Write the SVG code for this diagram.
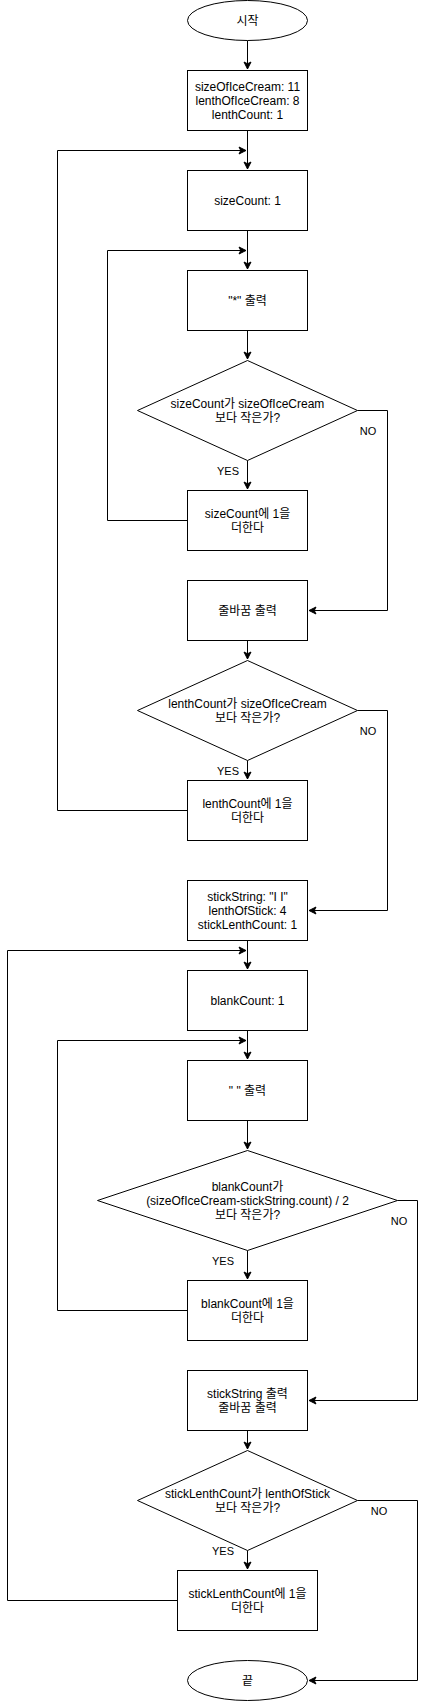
<svg xmlns="http://www.w3.org/2000/svg" width="426" height="1701" viewBox="0 0 426 1701">
<style>
.s{fill:#fff;stroke:#000;stroke-width:1}
.t{font-family:"Liberation Sans",Arial,"Noto Sans CJK KR",sans-serif;font-size:12px;fill:#000;text-anchor:middle}
.l{font-family:"Liberation Sans",Arial,"Noto Sans CJK KR",sans-serif;font-size:11px;fill:#000;text-anchor:middle}
.e{fill:none;stroke:#000;stroke-width:1;marker-end:url(#a)}
</style>
<defs>
<marker id="a" markerUnits="userSpaceOnUse" markerWidth="8" markerHeight="8" refX="7" refY="3.5" orient="auto" overflow="visible">
<path d="M0,0 L7,3.5 L0,7 L1.75,3.5 Z" fill="#000" stroke="#000" stroke-width="1"/>
</marker>
</defs>
<rect width="426" height="1701" fill="#fff"/>
<g id="connectors">
<path class="e" d="M247.5,40.5 V69"/>
<path class="e" d="M247.5,130.5 V169"/>
<path class="e" d="M247.5,230.5 V269"/>
<path class="e" d="M247.5,330.5 V359"/>
<path class="e" d="M247.5,460.5 V489"/>
<path class="e" d="M187.5,520.5 H107.5 V250.5 H246"/>
<path class="e" d="M357.5,410.5 H387.5 V610.5 H309"/>
<path class="e" d="M247.5,640.5 V659"/>
<path class="e" d="M247.5,760.5 V779"/>
<path class="e" d="M187.5,810.5 H57.5 V150.5 H246"/>
<path class="e" d="M357.5,710.5 H387.5 V910.5 H309"/>
<path class="e" d="M247.5,940.5 V969"/>
<path class="e" d="M247.5,1030.5 V1059"/>
<path class="e" d="M247.5,1120.5 V1149"/>
<path class="e" d="M247.5,1250.5 V1279"/>
<path class="e" d="M187.5,1310.5 H57.5 V1040.5 H246"/>
<path class="e" d="M397.5,1200.5 H417.5 V1400.5 H309"/>
<path class="e" d="M247.5,1430.5 V1449"/>
<path class="e" d="M247.5,1550.5 V1569"/>
<path class="e" d="M177.5,1600.5 H7.5 V950.5 H246"/>
<path class="e" d="M357.5,1500.5 H417.5 V1680.5 H309"/>
<text class="l" x="228" y="475">YES</text>
<text class="l" x="368" y="435">NO</text>
<text class="l" x="228" y="775">YES</text>
<text class="l" x="368" y="735">NO</text>
<text class="l" x="223" y="1265">YES</text>
<text class="l" x="399" y="1225">NO</text>
<text class="l" x="223" y="1555">YES</text>
<text class="l" x="379" y="1515">NO</text>
</g>
<g id="start"><ellipse class="s" cx="247.5" cy="20.5" rx="60" ry="20"/><text class="t" x="247.5" y="24.5">시작</text></g>
<g id="init"><rect class="s" x="187.5" y="70.5" width="120" height="60"/><text class="t" x="247.5" y="90.5">sizeOfIceCream: 11</text><text class="t" x="247.5" y="104.5">lenthOfIceCream: 8</text><text class="t" x="247.5" y="118.5">lenthCount: 1</text></g>
<g id="sizeCountInit"><rect class="s" x="187.5" y="170.5" width="120" height="60"/><text class="t" x="247.5" y="204.5">sizeCount: 1</text></g>
<g id="printStar"><rect class="s" x="187.5" y="270.5" width="120" height="60"/><text class="t" x="247.5" y="304.5">"*" 출력</text></g>
<g id="cond1"><path class="s" d="M247.5,360.5 L357.5,410.5 L247.5,460.5 L137.5,410.5 Z"/><text class="t" x="247.5" y="407.5">sizeCount가 sizeOfIceCream</text><text class="t" x="247.5" y="421.5">보다 작은가?</text></g>
<g id="incSize"><rect class="s" x="187.5" y="490.5" width="120" height="60"/><text class="t" x="247.5" y="517.5">sizeCount에 1을</text><text class="t" x="247.5" y="531.5">더한다</text></g>
<g id="newline1"><rect class="s" x="187.5" y="580.5" width="120" height="60"/><text class="t" x="247.5" y="614.5">줄바꿈 출력</text></g>
<g id="cond2"><path class="s" d="M247.5,660.5 L357.5,710.5 L247.5,760.5 L137.5,710.5 Z"/><text class="t" x="247.5" y="707.5">lenthCount가 sizeOfIceCream</text><text class="t" x="247.5" y="721.5">보다 작은가?</text></g>
<g id="incLenth"><rect class="s" x="187.5" y="780.5" width="120" height="60"/><text class="t" x="247.5" y="807.5">lenthCount에 1을</text><text class="t" x="247.5" y="821.5">더한다</text></g>
<g id="stickInit"><rect class="s" x="187.5" y="880.5" width="120" height="60"/><text class="t" x="247.5" y="900.5">stickString: "I I"</text><text class="t" x="247.5" y="914.5">lenthOfStick: 4</text><text class="t" x="247.5" y="928.5">stickLenthCount: 1</text></g>
<g id="blankInit"><rect class="s" x="187.5" y="970.5" width="120" height="60"/><text class="t" x="247.5" y="1004.5">blankCount: 1</text></g>
<g id="printBlank"><rect class="s" x="187.5" y="1060.5" width="120" height="60"/><text class="t" x="247.5" y="1094.5">" " 출력</text></g>
<g id="cond3"><path class="s" d="M247.5,1150.5 L397.5,1200.5 L247.5,1250.5 L97.5,1200.5 Z"/><text class="t" x="247.5" y="1190.5">blankCount가</text><text class="t" x="247.5" y="1204.5">(sizeOfIceCream-stickString.count) / 2</text><text class="t" x="247.5" y="1218.5">보다 작은가?</text></g>
<g id="incBlank"><rect class="s" x="187.5" y="1280.5" width="120" height="60"/><text class="t" x="247.5" y="1307.5">blankCount에 1을</text><text class="t" x="247.5" y="1321.5">더한다</text></g>
<g id="printStick"><rect class="s" x="187.5" y="1370.5" width="120" height="60"/><text class="t" x="247.5" y="1397.5">stickString 출력</text><text class="t" x="247.5" y="1411.5">줄바꿈 출력</text></g>
<g id="cond4"><path class="s" d="M247.5,1450.5 L357.5,1500.5 L247.5,1550.5 L137.5,1500.5 Z"/><text class="t" x="247.5" y="1497.5">stickLenthCount가 lenthOfStick</text><text class="t" x="247.5" y="1511.5">보다 작은가?</text></g>
<g id="incStick"><rect class="s" x="177.5" y="1570.5" width="140" height="60"/><text class="t" x="247.5" y="1597.5">stickLenthCount에 1을</text><text class="t" x="247.5" y="1611.5">더한다</text></g>
<g id="end"><ellipse class="s" cx="247.5" cy="1680.5" rx="60" ry="20"/><text class="t" x="247.5" y="1684.5">끝</text></g>
</svg>
